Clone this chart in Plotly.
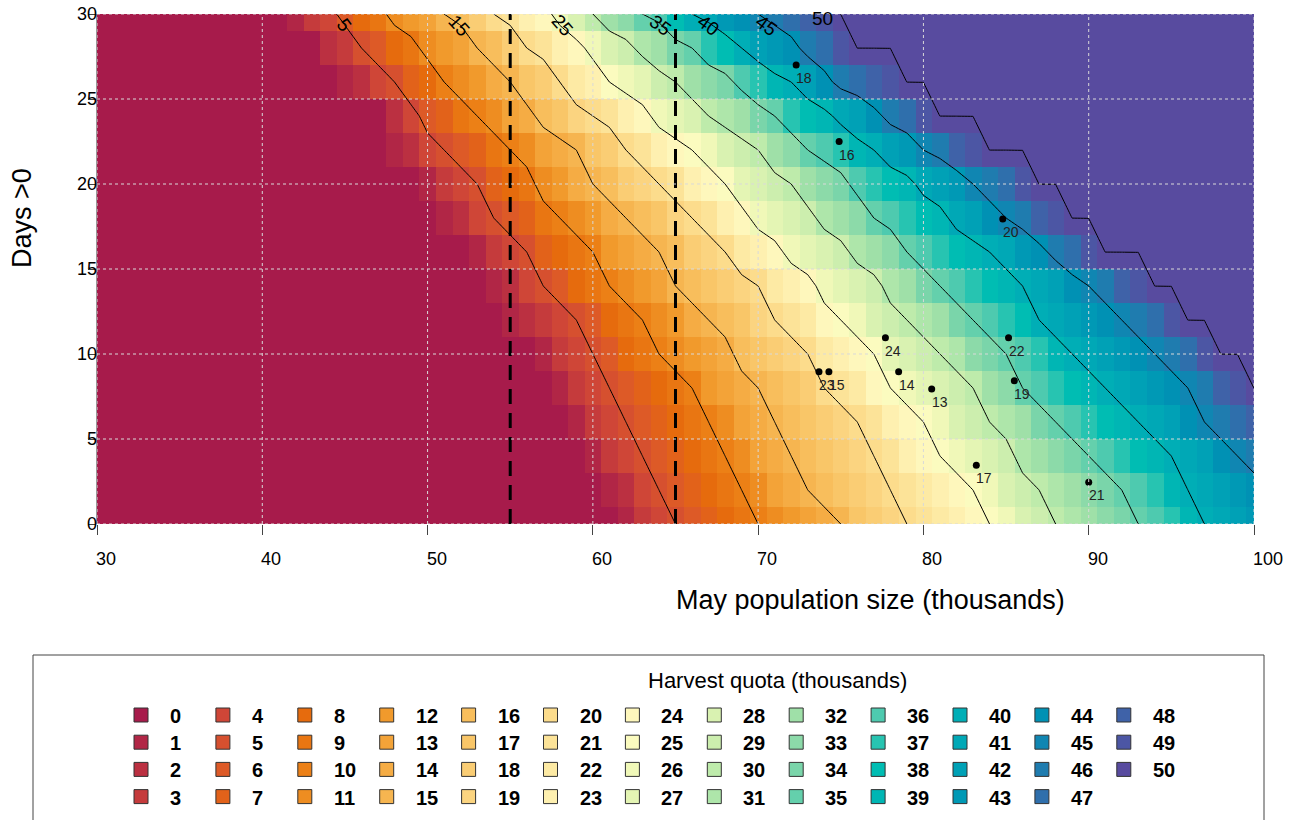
import numpy as np
import plotly.graph_objects as go

# ---------------- data ----------------
pop = list(range(30, 101))            # May population size (thousands), grid columns
days = list(range(0, 31, 2))          # Days > 0, grid rows (0, 2, ..., 30)

quota_levels = [0, 5, 10, 15, 20, 25, 30, 35, 40, 45, 50]
# population (x) at which each quota level is reached, one value per day row (d = 0, 2, ..., 30)
x_q00 = [61, 60, 59, 58, 57, 56, 54, 53, 52, 50, 49, 47, 47, 44, 43, 41]
x_q05 = [64.96, 64.05, 62.9, 61.9, 60.9, 59.9, 58.9, 57.0, 55.8, 54.2, 52.8, 51.05, 49.5, 48.0, 46.0, 44.5]
x_q10 = [70.0, 69.0, 67.9, 66.9, 65.6, 63.85, 62.95, 61.0, 59.6, 58.0, 56.5, 54.98, 52.97, 51.05, 49.6, 47.5]
x_q15 = [74.6, 72.8, 71.9, 70.9, 70.0, 68.5, 67.1, 65.4, 63.85, 62.0, 60.0, 58.7, 56.6, 55.0, 53.2, 51.3]
x_q20 = [79.0, 78.0, 76.9, 75.75, 74.35, 72.7, 71.1, 69.7, 67.9, 66.1, 63.95, 62.0, 60.0, 58.0, 56.0, 54.0]
x_q25 = [83.9, 83.0, 81.0, 80.0, 78.1, 76.7, 74.95, 73.4, 71.5, 69.6, 67.7, 65.8, 63.5, 61.2, 59.4, 57.6]
x_q30 = [87.85, 87.0, 85.5, 84.0, 82.8, 81.0, 79.0, 77.6, 75.4, 73.5, 71.8, 69.9, 67.3, 64.9, 62.4, 60.0]
x_q35 = [92.9, 91.7, 90.0, 88.05, 86.2, 84.8, 83.0, 81.0, 79.3, 77.3, 75.4, 73.2, 70.8, 68.4, 66.0, 63.2]
x_q40 = [97.3, 96.4, 95.3, 93.1, 91.1, 89.3, 87.4, 86.0, 84.1, 81.5, 79.5, 77.0, 74.5, 71.8, 68.9, 66.1]
x_q45 = [102.5, 101.0, 98.9, 97.0, 96.0, 94.1, 92.1, 90.0, 87.65, 84.8, 83.1, 80.0, 77.6, 74.25, 72.4, 69.6]
x_q50 = [107.0, 105.0, 103.0, 101.5, 100, 98, 96, 94, 91, 89, 87, 84, 81, 79, 76, 75]
level_x = [x_q00, x_q05, x_q10, x_q15, x_q20, x_q25, x_q30, x_q35, x_q40, x_q45, x_q50]

labelled_levels = [5, 15, 25, 35, 40, 45, 50]

ref_pop = [55, 65]   # dashed reference lines

pt_x = [72.3, 74.9, 84.8, 77.7, 85.15, 78.5, 80.5, 85.5, 73.68, 74.28, 83.2, 90.0]
pt_y = [27.0, 22.5, 17.94, 10.96, 10.96, 8.96, 7.94, 8.43, 8.96, 8.96, 3.45, 2.45]
pt_lab = ["18", "16", "20", "24", "22", "14", "13", "19", "23", "15", "17", "21"]

x_ticks = [30, 40, 50, 60, 70, 80, 90, 100]
y_ticks = [0, 5, 10, 15, 20, 25, 30]
legend_values = list(range(0, 51))

# palette anchors (Spectral-like)
pal_idx = [0, 4, 6, 8, 10, 12, 14, 16, 18, 20, 22, 24, 25, 26, 28, 30, 32, 34, 36, 38, 40, 42, 44, 46, 48, 50]
pal_hex = ["#A71B4B", "#CF4637", "#DD5A27", "#E66B0D", "#EC8016", "#F19A2C", "#F5AC44", "#F8BE5C",
           "#FACD74", "#FCDC8C", "#FDEAA4", "#FEF7BC", "#FBFBBF", "#F0F8B8", "#D9F2B1", "#BEEBAB",
           "#9FE0A8", "#7AD5AA", "#4ECAAF", "#00BDB3", "#00AEB6", "#00A1B6", "#0091B4", "#1F7CAF",
           "#3F62A8", "#584B9F"]

# ---------------- helpers ----------------
def hex2rgb(h):
    h = h.lstrip("#")
    return [int(h[i:i + 2], 16) for i in (0, 2, 4)]

anch = np.array([hex2rgb(h) for h in pal_hex], dtype=float)
colors = []
for k in range(51):
    rgb = [np.interp(k, pal_idx, anch[:, c]) for c in range(3)]
    colors.append("#%02X%02X%02X" % tuple(int(round(v)) for v in rgb))

L_PX, R_PX, T_PX, B_PX = 97, 1254, 14, 524
W, H = 1289, 820
def pxx(px):
    return (px - L_PX) / (R_PX - L_PX)
def pxy(py):
    return (B_PX - py) / (B_PX - T_PX)

# quota grid from the level crossings
z = []
for i in range(len(days)):
    xs = [lx[i] for lx in level_x]
    z.append(np.rint(np.interp(pop, xs, quota_levels)))
z = np.array(z)

# discrete colorscale
cs = []
for k in range(51):
    cs.append([k / 51, colors[k]])
    cs.append([(k + 1) / 51, colors[k]])

FONT = "Liberation Sans, Arial, Helvetica, sans-serif"

fig = go.Figure()
fig.add_trace(go.Heatmap(x=pop, y=days, z=z, colorscale=cs, zmin=-0.5, zmax=50.5,
                         showscale=False, hoverinfo="skip"))
fig.add_trace(go.Contour(x=pop, y=days, z=z, autocontour=False,
                         contours=dict(start=5, end=45, size=5, coloring="none", showlabels=False),
                         line=dict(color="black", width=1, smoothing=0), showscale=False,
                         hoverinfo="skip"))
fig.add_trace(go.Contour(x=pop, y=days, z=z, autocontour=False,
                         contours=dict(start=49.99, end=50.4, size=5, coloring="none", showlabels=False),
                         line=dict(color="black", width=1, smoothing=0), showscale=False,
                         hoverinfo="skip"))
for xv in ref_pop:
    fig.add_trace(go.Scatter(x=[xv, xv], y=[0, 30], mode="lines",
                             line=dict(color="black", width=3, dash="15px,9px"),
                             hoverinfo="skip", showlegend=False))
fig.add_trace(go.Scatter(x=pt_x, y=pt_y, mode="markers",
                         marker=dict(color="black", size=7), hoverinfo="skip", showlegend=False))

shapes = []
annotations = []

# grid lines (dotted)
for xv in x_ticks:
    shapes.append(dict(type="line", xref="x", yref="y", x0=xv, x1=xv, y0=0, y1=30,
                       line=dict(color="#D9D9D9", width=1, dash="dot"), layer="above"))
for yv in y_ticks:
    shapes.append(dict(type="line", xref="x", yref="y", x0=30, x1=100, y0=yv, y1=yv,
                       line=dict(color="#D9D9D9", width=1, dash="dot"), layer="above"))

# point labels
for xv, yv, t in zip(pt_x, pt_y, pt_lab):
    annotations.append(dict(x=xv, y=yv, xref="x", yref="y", text=t, showarrow=False,
                            xanchor="left", yanchor="top", xshift=-2, yshift=-3,
                            font=dict(family=FONT, size=14, color="#222")))

# contour labels near the top edge
for L in labelled_levels:
    lx = level_x[quota_levels.index(L)]
    x30, x28 = lx[-1], lx[-2]
    if L == 50:
        dl, ang = 29.75, 0.0
        xl = x30 - 1.1
    else:
        dl = 29.35
        xl = x28 + (x30 - x28) * (dl - 28) / 2
        dx_px = (x28 - x30) * (R_PX - L_PX) / 70
        dy_px = 2 * (B_PX - T_PX) / 30
        ang = float(np.degrees(np.arctan2(dy_px, dx_px)))
    annotations.append(dict(x=xl, y=dl, xref="x", yref="y", text=str(L), showarrow=False,
                            textangle=ang,
                            font=dict(family=FONT, size=19, color="black")))

# tick labels
for xv in x_ticks:
    annotations.append(dict(x=xv, y=pxy(559), xref="x", yref="paper", text=str(xv),
                            showarrow=False, xanchor="left", yanchor="middle", xshift=-3,
                            font=dict(family=FONT, size=18, color="black")))
for yv in y_ticks:
    annotations.append(dict(x=pxx(97), y=yv, xref="paper", yref="y", text=str(yv),
                            showarrow=False, xanchor="right", yanchor="middle", xshift=2,
                            font=dict(family=FONT, size=18, color="black")))

# axis titles
annotations.append(dict(x=pxx(674), y=pxy(600), xref="paper", yref="paper",
                        text="May population size (thousands)", showarrow=False,
                        xanchor="left", yanchor="middle",
                        font=dict(family=FONT, size=27, color="black")))
annotations.append(dict(x=pxx(22), y=pxy(270), xref="paper", yref="paper",
                        text="Days >0", showarrow=False, textangle=-90,
                        xanchor="center", yanchor="bottom",
                        font=dict(family=FONT, size=27, color="black")))

# legend box
shapes.append(dict(type="rect", xref="paper", yref="paper", x0=pxx(33), x1=pxx(1264),
                   y0=pxy(840), y1=pxy(655), line=dict(color="#444", width=1),
                   fillcolor="rgba(0,0,0,0)", layer="above"))
annotations.append(dict(x=pxx(646), y=pxy(680), xref="paper", yref="paper",
                        text="Harvest quota (thousands)", showarrow=False,
                        xanchor="left", yanchor="middle",
                        font=dict(family=FONT, size=22, color="black")))
for k in legend_values:
    col, row = k // 4, k % 4
    cx = 141 + col * 81.9
    cy = 715 + row * 27.2
    shapes.append(dict(type="rect", xref="paper", yref="paper",
                       x0=pxx(cx - 7), x1=pxx(cx + 7), y0=pxy(cy + 7), y1=pxy(cy - 7),
                       line=dict(color="#333", width=1), fillcolor=colors[k], layer="above"))
    annotations.append(dict(x=pxx(cx + 27), y=pxy(cy + 1), xref="paper", yref="paper",
                            text="<b>%d</b>" % k, showarrow=False,
                            xanchor="left", yanchor="middle",
                            font=dict(family=FONT, size=20, color="black")))

fig.update_layout(
    width=W, height=H,
    margin=dict(l=L_PX, r=W - R_PX, t=T_PX, b=H - B_PX, pad=0),
    paper_bgcolor="white", plot_bgcolor="white",
    showlegend=False,
    shapes=shapes, annotations=annotations,
    xaxis=dict(range=[30, 100], showgrid=False, zeroline=False, tickvals=x_ticks,
               showticklabels=False, ticks="outside", ticklen=10, tickcolor="#444",
               showline=False),
    yaxis=dict(range=[0, 30], showgrid=False, zeroline=False, tickvals=y_ticks,
               showticklabels=False, ticks="outside", ticklen=8, tickcolor="#444",
               showline=True, linecolor="#999", linewidth=1),
)

fig.write_html("out.html")
